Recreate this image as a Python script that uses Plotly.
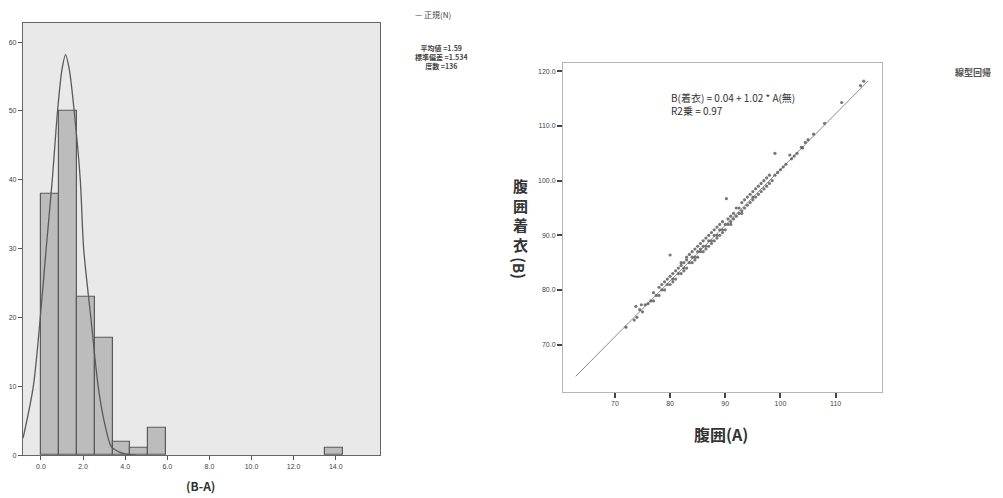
import plotly.graph_objects as go

# ---------------- data ----------------
# Histogram of (B-A)
bin_left = [0.0, 0.85, 1.7, 2.55, 3.4, 4.25, 5.1, 13.5]
bin_count = [38, 50, 23, 17, 2, 1, 4, 1]
bin_width = 0.85

# Normal curve
curve_x = [-0.85, -0.81, -0.36, -0.03, 0.25, 0.54, 0.79, 1.0, 1.17, 1.35, 1.58, 1.87, 2.03, 2.37, 2.72, 3.0, 3.35, 3.7, 4.0, 4.5]
curve_y = [2.5, 3.0, 10.0, 20.0, 30.0, 40.0, 50.0, 56.0, 58.2, 56.0, 50.0, 40.0, 30.0, 20.0, 10.0, 5.0, 1.2, 0.5, 0.2, 0.0]

hist_x_ticks = [0, 2, 4, 6, 8, 10, 12, 14]
hist_y_ticks = [0, 10, 20, 30, 40, 50, 60]

# Scatter: A (腹囲) vs B (腹囲着衣)
waist_A = [
    72.0, 73.5, 74.0, 74.5, 75.0, 75.5, 73.8, 74.8, 76.0, 76.5,
    77.0, 77.0, 77.5, 78.0, 78.0, 78.5, 78.5, 79.0, 79.0, 79.5,
    79.5, 80.0, 80.0, 80.0, 80.5, 80.5, 81.0, 81.0, 81.5, 81.5,
    82.0, 82.0, 82.0, 82.5, 82.5, 83.0, 83.0, 83.0, 83.5, 83.5,
    84.0, 84.0, 84.0, 84.5, 84.5, 85.0, 85.0, 85.0, 85.5, 85.5,
    85.5, 86.0, 86.0, 86.0, 86.5, 86.5, 87.0, 87.0, 87.0, 87.5,
    87.5, 88.0, 88.0, 88.0, 88.5, 88.5, 89.0, 89.0, 89.0, 89.5,
    89.5, 90.0, 90.0, 90.2, 90.5, 90.5, 91.0, 91.0, 91.5, 91.5,
    92.0, 92.0, 92.5, 92.5, 93.0, 93.0, 93.5, 93.5, 94.0, 94.0,
    94.5, 94.5, 95.0, 95.0, 95.5, 95.5, 96.0, 96.0, 96.5, 96.5,
    97.0, 97.0, 97.5, 98.0, 98.0, 98.5, 99.0, 99.0, 99.5, 100.0,
    100.5, 101.0, 101.7, 102.0, 102.5, 103.0, 103.8, 104.0, 104.5, 105.0,
    106.0, 108.0, 111.1, 114.5, 115.1, 82.5, 86.5, 89.5, 91.0, 93.0,
    84.5, 87.5, 80.5, 95.0, 97.5, 88.5,
]
waist_B = [
    73.2, 74.5, 75.0, 76.4, 76.0, 77.3, 77.0, 77.3, 77.5, 78.0,
    78.0, 79.5, 79.0, 79.0, 80.5, 80.0, 81.0, 80.0, 81.5, 81.0,
    82.0, 81.0, 82.5, 86.4, 82.0, 83.0, 82.0, 83.5, 83.0, 84.0,
    83.0, 84.5, 85.0, 84.0, 85.0, 84.0, 85.5, 86.0, 85.0, 86.5,
    85.0, 86.0, 87.0, 86.0, 87.5, 86.0, 87.0, 88.0, 87.0, 88.5,
    87.5, 87.0, 88.0, 89.0, 88.0, 89.5, 88.0, 89.0, 90.0, 89.0,
    90.5, 89.0, 90.0, 91.0, 90.0, 91.5, 90.0, 91.0, 92.0, 91.0,
    92.5, 91.0, 92.0, 96.7, 92.0, 93.0, 92.0, 93.5, 93.0, 94.0,
    93.5, 95.0, 94.0, 95.0, 94.5, 96.0, 95.0, 96.5, 95.5, 97.0,
    96.0, 97.5, 96.5, 98.0, 97.0, 98.5, 97.5, 99.0, 98.0, 99.5,
    98.5, 100.0, 99.0, 99.5, 101.0, 100.0, 105.0, 101.0, 101.5, 102.0,
    102.5, 103.0, 104.7, 104.0, 104.5, 105.0, 106.1, 106.0, 107.0, 107.5,
    108.5, 110.5, 114.3, 117.4, 118.2, 83.5, 87.5, 90.5, 92.5, 94.0,
    85.5, 88.5, 81.5, 97.0, 100.5, 89.5,
]

fit_intercept = 0.04
fit_slope = 1.02
fit_x = [62.9, 115.9]

sc_x_ticks = [70, 80, 90, 100, 110]
sc_y_ticks = [70, 80, 90, 100, 110, 120]

# ---------------- layout helpers ----------------
W, H = 1003, 498


def px(x):
    return x / W


def py(y):
    return 1 - y / H


JP = "Noto Sans CJK JP"
SANS = "Liberation Sans"

fig = go.Figure()

# Histogram bars
fig.add_trace(go.Bar(
    x=bin_left, y=bin_count, width=[bin_width] * len(bin_left), offset=0,
    marker=dict(color="#bcbcbc", line=dict(color="#5a5a5a", width=1.2)),
    xaxis="x", yaxis="y", showlegend=False, hoverinfo="skip",
))
# Normal curve
fig.add_trace(go.Scatter(
    x=curve_x, y=curve_y, mode="lines",
    line=dict(color="#5a5a5a", width=1.3, shape="spline", smoothing=0.8),
    xaxis="x", yaxis="y", showlegend=False, hoverinfo="skip",
))

# Fit line
fit_y = [fit_intercept + fit_slope * v for v in fit_x]
fig.add_trace(go.Scatter(
    x=fit_x, y=fit_y, mode="lines",
    line=dict(color="#8a8a8a", width=1),
    xaxis="x2", yaxis="y2", showlegend=False, hoverinfo="skip",
))
# Scatter points
fig.add_trace(go.Scatter(
    x=waist_A, y=waist_B, mode="markers",
    marker=dict(symbol="circle", size=3.2, color="#5f5f5f", opacity=0.85),
    xaxis="x2", yaxis="y2", showlegend=False, hoverinfo="skip",
))

tickfont = dict(family=SANS, size=7, color="#444")

fig.update_layout(
    width=W, height=H,
    margin=dict(l=0, r=0, t=0, b=0),
    paper_bgcolor="white",
    plot_bgcolor="white",
    bargap=0,
    xaxis=dict(
        domain=[px(23), px(380)], range=[-0.85, 16.1],
        tickvals=hist_x_ticks, tickformat=".1f",
        ticks="outside", ticklen=4, tickcolor="#555", tickfont=tickfont,
        showgrid=False, zeroline=False,
        showline=True, linecolor="#666", linewidth=1.2, mirror=True,
        anchor="y",
    ),
    yaxis=dict(
        domain=[py(458), py(23)], range=[0, 62.8],
        tickvals=hist_y_ticks,
        ticks="outside", ticklen=4, tickcolor="#555", tickfont=tickfont,
        showgrid=False, zeroline=False,
        showline=True, linecolor="#666", linewidth=1.2, mirror=True,
        anchor="x",
    ),
    xaxis2=dict(
        domain=[px(563), px(882)], range=[60.6, 118.4],
        tickvals=sc_x_ticks,
        ticks="outside", ticklen=5, tickwidth=2, tickcolor="#444", tickfont=tickfont,
        showgrid=False, zeroline=False,
        showline=True, linecolor="#b5b5b5", linewidth=1, mirror=True,
        anchor="y2",
    ),
    yaxis2=dict(
        domain=[py(394), py(63)], range=[61.4, 121.6],
        tickvals=sc_y_ticks, tickformat=".1f",
        ticks="outside", ticklen=5, tickwidth=2, tickcolor="#444", tickfont=tickfont,
        showgrid=False, zeroline=False,
        showline=True, linecolor="#b5b5b5", linewidth=1, mirror=True,
        anchor="x2",
    ),
)

# Light gray background for histogram plot area
fig.add_shape(type="rect", xref="paper", yref="paper",
              x0=px(23), x1=px(380), y0=py(458), y1=py(23),
              fillcolor="#e9e9e9", line=dict(width=0), layer="below")

anns = []


def ann(text, x, y, size, xanchor="center", yanchor="middle", color="#333", family=JP, angle=0, align="center"):
    anns.append(dict(text=text, x=px(x), y=py(y), xref="paper", yref="paper",
                     showarrow=False, xanchor=xanchor, yanchor=yanchor, align=align,
                     font=dict(family=family, size=size, color=color), textangle=angle))


# Histogram labels
ann("<b>(B-A)</b>", 200, 488, 12, color="#333")
ann("— 正規(N)", 433, 15, 8, color="#444")
ann("<b>平均値 =1.59<br>標準偏差 =1.534<br>度数 =136</b>", 441, 57, 7, color="#444")

# Scatter labels
ann("B(着衣) = 0.04 + 1.02 * A(無)<br>R2乗 = 0.97", 669, 105, 10, xanchor="left", color="#333", align="left")
ann("<b>線型回帰</b>", 953, 73, 9, xanchor="left", color="#555")
ann("<b>腹囲(A)</b>", 721, 437, 16, color="#333")
ann("<b>腹<br>囲<br>着<br>衣</b>", 520, 216, 15, color="#333")
ann("<b>(B)</b>", 520, 270, 15, color="#333", angle=90)

fig.update_layout(annotations=anns)

fig.write_html(
    "out.html",
    config={"displayModeBar": False},
    post_script="document.body.style.margin='0';document.body.style.overflow='hidden';",
)
